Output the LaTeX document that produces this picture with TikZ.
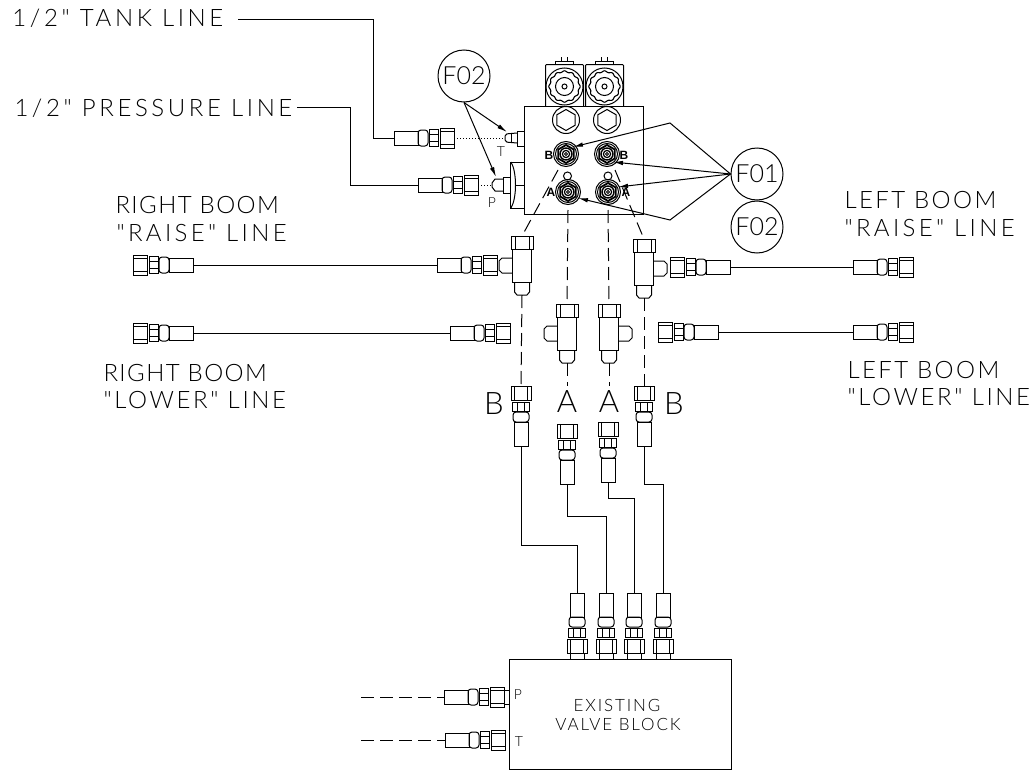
\documentclass[tikz,border=0pt]{standalone}
\usepackage{fontspec}
\setmainfont{Liberation Sans}
\newfontfamily\smallcad[LetterSpace=11]{Lato Light}
\newfontfamily\tagfont{Lato Light}
\usetikzlibrary{arrows.meta}

\tikzset{
    tag/.style={circle, draw, minimum size=52pt, inner sep=0pt, font=\tagfont\fontsize{25}{25}\selectfont},
    lbl/.style={anchor=base west, inner sep=0pt, font=\tagfont\fontsize{24}{24}\selectfont\addfontfeature{LetterSpace=#1}},
    blocklbl/.style={inner sep=0pt, font=\smallcad\fontsize{17}{17}\selectfont},
    portlbl/.style={inner sep=0pt, font=\tagfont\fontsize{14}{14}\selectfont},
    boldlbl/.style={inner sep=0pt, font=\bfseries\fontsize{12}{12}\selectfont},
    bigb/.style={inner sep=0pt, font=\tagfont\fontsize{31}{31}\selectfont},
    ptr/.style={-{Latex[length=10pt,width=4.5pt]}},
    dashline/.style={dash pattern=on 13pt off 6pt},
    hosefit/.pic={
        \coordinate (-tail) at (0,0);
        \coordinate (-end) at (60,0);
        \draw (0,-7) rectangle (24,7);
        \draw[rounded corners=3pt] (24,-8) rectangle (34,8);
        \draw (35,-8.5) rectangle (44,8.5);
        \draw (35,-3.5) -- (44,-3.5) (35,3.5) -- (44,3.5);
        \draw (46,-10) rectangle (60,10);
        \draw (46,-6.5) -- (60,-6.5) (46,6.5) -- (60,6.5);
    },
    teefit/.pic={
        \coordinate (-top) at (0,0);
        \coordinate (-bot) at (0,59);
        \draw (-11,0) rectangle (11,13);
        \draw (-7,0) -- (-7,13) (7,0) -- (7,13);
        \draw (-9.5,13) rectangle (9.5,46);
        \draw (-7.5,46) -- (-7.5,56) -- (-5,59) -- (5,59) -- (7.5,56) -- (7.5,46);
        \draw (-9.5,22) -- (-20,22) -- (-23,25) -- (-23,34) -- (-20,37) -- (-9.5,37);
    },
    solenoid/.pic={
        \draw[rounded corners=1pt] (-19,20) -- (-19,-22) -- (19,-22) -- (19,20);
        \draw (-3,-25) -- (-3,-30) (3,-25) -- (3,-30);
        \draw (-9,-22) -- (-9,-25) -- (9,-25) -- (9,-22);
        \draw (0,0) circle (18.5);
        \draw[line width=1.1pt] plot[domain=0:360, samples=97, smooth] ({(15+0.7*cos(12*\x))*cos(\x)}, {(15+0.7*cos(12*\x))*sin(\x)});
        \draw (0,0) circle (9);
        \draw (0,0) circle (2.5);
    },
    plugfit/.pic={
        \draw (0,0) circle (13.5);
        \draw (30:10.5) -- (90:10.5) -- (150:10.5) -- (210:10.5) -- (270:10.5) -- (330:10.5) -- cycle;
    },
    portfit/.pic={
        \draw (0,0) circle (12.5);
        \draw (0,0) circle (10.5);
        \draw[line width=1.8pt] (30:9) -- (90:9) -- (150:9) -- (210:9) -- (270:9) -- (330:9) -- cycle;
        \draw[line width=1.4pt] (0,0) circle (6);
        \draw[line width=1.2pt] (0,0) circle (3.6);
        \draw (0,0) circle (1.5);
    },
}

\begin{document}
\begin{tikzpicture}[x=1pt, y=-1pt, line width=1pt]
    \useasboundingbox (0,0) rectangle (1036,771);
    \fill[white] (0,0) rectangle (1036,771);

    % labels
    \node[lbl=15] (tankline) at (12,26) {1/2" TANK LINE};
    \node[lbl=15] (pressline) at (14,116) {1/2" PRESSURE LINE};
    \node[lbl=6] (rraisea) at (115,213) {RIGHT BOOM};
    \node[lbl=14] (rraiseb) at (116,241) {"RAISE" LINE};
    \node[lbl=6] (rlowera) at (103,381) {RIGHT BOOM};
    \node[lbl=11] (rlowerb) at (103,408) {"LOWER" LINE};
    \node[lbl=10] (lraisea) at (844,208) {LEFT BOOM};
    \node[lbl=14] (lraiseb) at (844,236) {"RAISE" LINE};
    \node[lbl=10] (llowera) at (847,378) {LEFT BOOM};
    \node[lbl=11] (llowerb) at (847,405) {"LOWER" LINE};

    % valve on top
    \draw (524,106) rectangle (643,214);
    \pic at (564.5,86.5) {solenoid};
    \pic at (604.5,86.5) {solenoid};
    \pic at (566,120) {plugfit};
    \pic at (607,120) {plugfit};
    \pic at (566,154) {portfit};
    \pic at (607,154) {portfit};
    \pic at (568,192) {portfit};
    \pic at (608,192) {portfit};
    \draw (567.5,176) circle (4);
    \draw (608,176) circle (4);
    \node[boldlbl] (bleft) at (549,155) {B};
    \node[boldlbl] (bright) at (624,155) {B};
    \node[boldlbl] (aleft) at (551,192) {A};
    \node[boldlbl] (aright) at (626,192) {A};

    % side ports
    \draw (524,131) -- (517,131) -- (517,146) -- (524,146);
    \draw[rounded corners=2pt] (517,133) -- (505,134) -- (505,142) -- (517,143);
    \draw (511,134) -- (511,142);
    \draw (524,162) -- (510,162) -- (510,208) -- (524,208);
    \draw (511,162) .. controls (517,172) and (517,198) .. (511,208);
    \draw (515,185) -- (524,185);
    \draw (510,177) -- (503,177) -- (503,193) -- (510,193);
    \draw (503,179) -- (495,179) -- (492,183) -- (492,187) -- (495,191) -- (503,191);
    \coordinate (tport) at (505,138);
    \coordinate (pport) at (492,185);
    \node[portlbl] (tlbl) at (501,152) {T};
    \node[portlbl] (plbl) at (492,203) {P};

    % supply lines
    \pic (tankfit) at (394,138) {hosefit};
    \pic (pressfit) at (418,185) {hosefit};
    \coordinate (tankstart) at (238,19);
    \coordinate (pressstart) at (297,107);
    \draw (tankstart) -- (373,19) -- (373,138) -- (tankfit-tail);
    \draw (pressstart) -- (350,107) -- (350,185) -- (pressfit-tail);
    \draw[dotted] (tankfit-end) -- (tport);
    \draw[dotted] (pressfit-end) -- (pport);

    % tees
    \pic (teea) at (522,236) {teefit};
    \pic[xscale=-1] (teeb) at (644,239) {teefit};
    \pic (teec) at (567,304) {teefit};
    \pic[xscale=-1] (teed) at (609,304) {teefit};

    % boom hoses
    \pic[rotate=180] (rra) at (193,265) {hosefit};
    \pic (rrb) at (437,265) {hosefit};
    \draw (rra-tail) -- (rrb-tail);
    \pic[rotate=180] (rla) at (193,333) {hosefit};
    \pic (rlb) at (450,333) {hosefit};
    \draw (rla-tail) -- (rlb-tail);
    \pic[rotate=180] (lra) at (730,267) {hosefit};
    \pic (lrb) at (853,267) {hosefit};
    \draw (lra-tail) -- (lrb-tail);
    \pic[rotate=180] (lla) at (718,332) {hosefit};
    \pic (llb) at (853,332) {hosefit};
    \draw (lla-tail) -- (llb-tail);

    % lower fittings
    \pic[rotate=90] (dna) at (521,446) {hosefit};
    \pic[rotate=90] (dnb) at (567,484) {hosefit};
    \pic[rotate=90] (dnc) at (608,482) {hosefit};
    \pic[rotate=90] (dnd) at (644,446) {hosefit};
    \node[bigb] (bbl) at (494,404) {B};
    \node[bigb] (aal) at (567,402) {A};
    \node[bigb] (aar) at (609,402) {A};
    \node[bigb] (bbr) at (674,404) {B};

    % dashed
    \draw[dashline] (558,170) -- (teea-top);
    \draw[dashline] (568,210) -- (teec-top);
    \draw[dashline] (608,210) -- (teed-top);
    \draw[dashline] (615,170) -- (teeb-top);
    \draw[dashline] (teea-bot) -- (dna-end);
    \draw[dashline] (teeb-bot) -- (dnd-end);
    \draw[dashline] (teec-bot) -- (567,386);
    \draw[dashline] (teed-bot) -- (609,386);

    % block below
    \node[draw, minimum width=222pt, minimum height=110pt, anchor=north west, inner sep=0pt] (block) at (509,659) {};
    \node[blocklbl] (blocka) at (617,705.5) {EXISTING};
    \node[blocklbl] (blockb) at (618,724) {VALVE BLOCK};
    \pic[rotate=-90] (upa) at (577,593) {hosefit};
    \pic[rotate=-90] (upb) at (606,593) {hosefit};
    \pic[rotate=-90] (upc) at (634,593) {hosefit};
    \pic[rotate=-90] (upd) at (663,593) {hosefit};
    \foreach \px in {577,606,634,663} {
        \draw (\px-7,653) -- (\px-7,659) (\px+7,653) -- (\px+7,659);
    }
    \draw (dna-tail) -- (521,545) -- (577,545) -- (upa-tail);
    \draw (dnb-tail) -- (567,516) -- (606,516) -- (upb-tail);
    \draw (dnc-tail) -- (608,498) -- (634,498) -- (upc-tail);
    \draw (dnd-tail) -- (644,484) -- (663,484) -- (upd-tail);

    \pic (blkp) at (444,697) {hosefit};
    \pic (blkt) at (445,740) {hosefit};
    \draw (504,690) rectangle (509,704);
    \coordinate (pfree) at (361,697);
    \coordinate (tfree) at (361,740);
    \draw[dashline] (pfree) -- (blkp-tail);
    \draw[dashline] (tfree) -- (blkt-tail);
    \node[portlbl] (pblk) at (518,695) {P};
    \node[portlbl] (tblk) at (519,742) {T};

    % callouts
    \node[tag] (ftwoa) at (464,76) {F02};
    \node[tag] (fone) at (757,174) {F01};
    \node[tag] (ftwob) at (757,227) {F02};
    \coordinate (elbowa) at (670,123);
    \coordinate (elbowb) at (670,220);
    \draw[ptr] (ftwoa.south) -- (507,132);
    \draw[ptr] (ftwoa.south) -- (496,177);
    \draw[ptr] (fone.west) -- (elbowa) -- (573,147);
    \draw[ptr] (fone.west) -- (613,162);
    \draw[ptr] (fone.west) -- (618,187);
    \draw[ptr] (fone.west) -- (elbowb) -- (578,198);
\end{tikzpicture}
\end{document}
